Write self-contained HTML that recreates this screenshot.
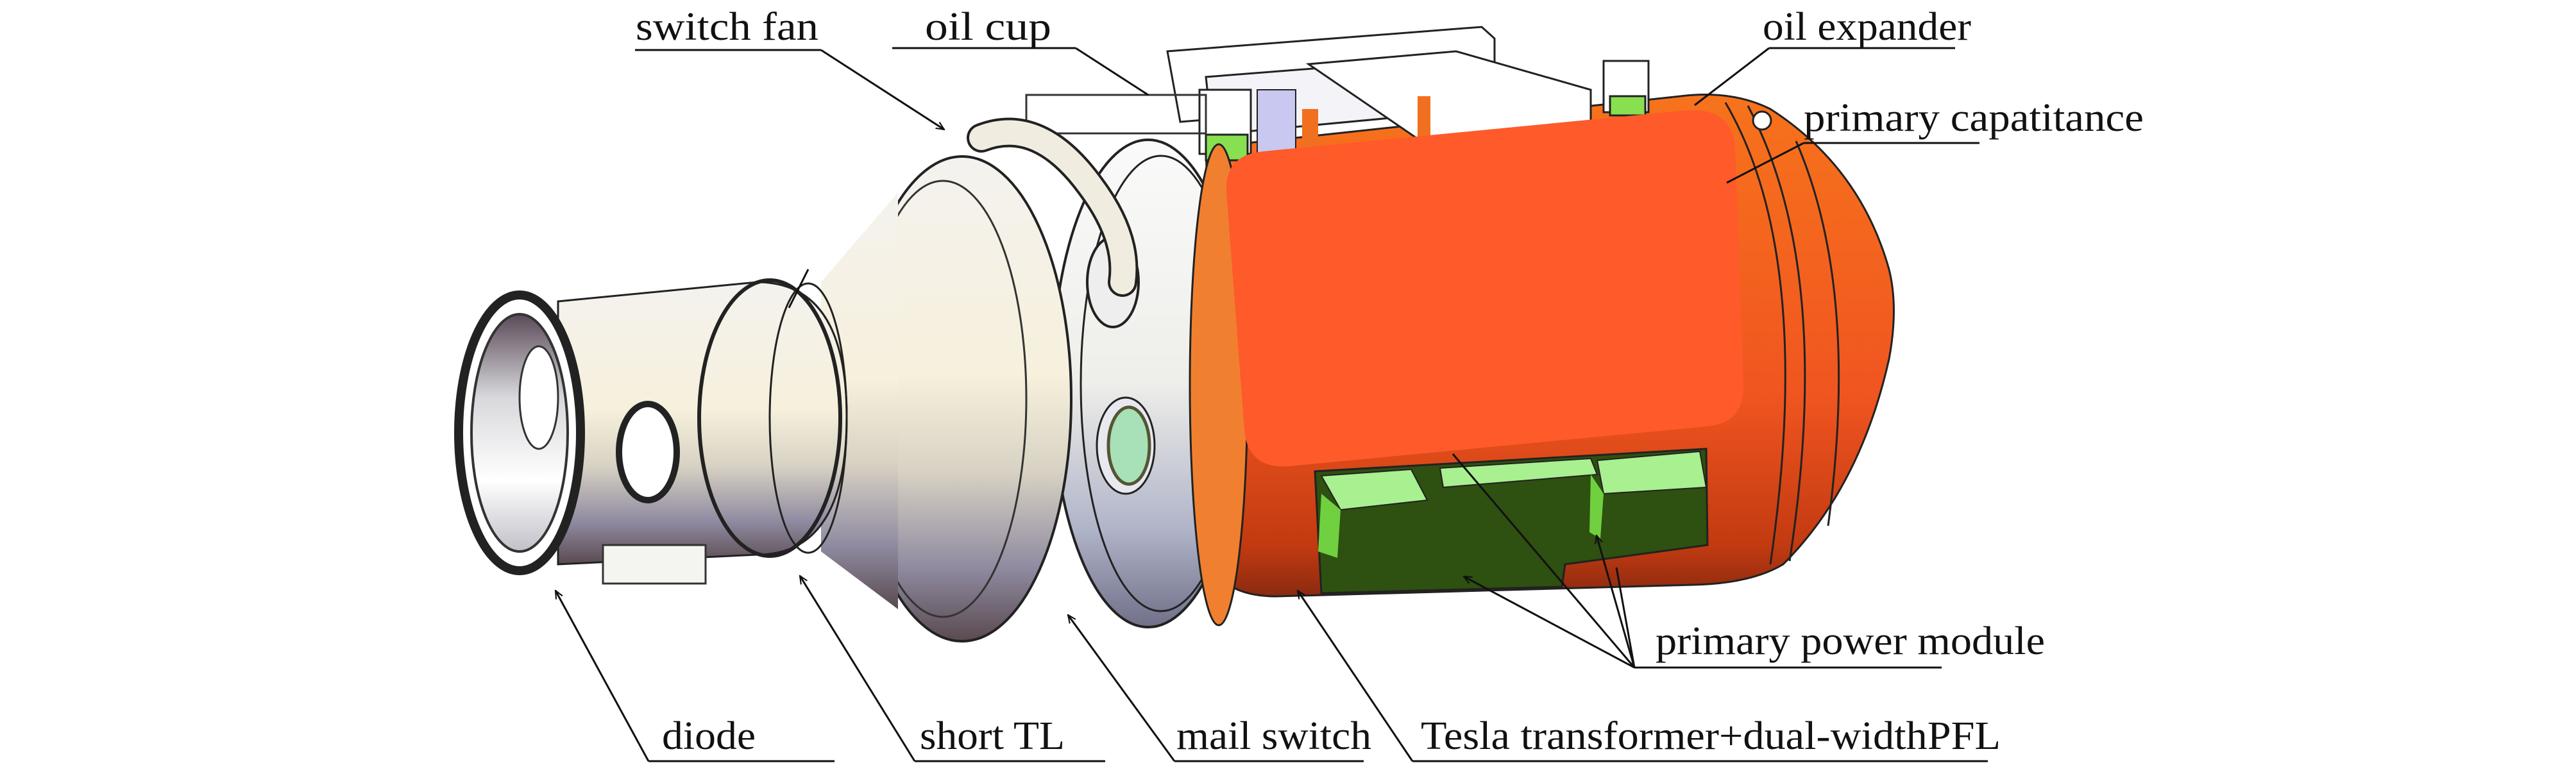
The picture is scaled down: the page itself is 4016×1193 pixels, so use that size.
<!DOCTYPE html>
<html><head><meta charset="utf-8"><style>
html,body{margin:0;padding:0;background:#fff;}
svg{display:block;}
text{font-family:"Liberation Serif",serif;font-size:62px;fill:#111;}
</style></head><body>
<svg width="4016" height="1193" viewBox="0 0 4016 1193" xmlns="http://www.w3.org/2000/svg">
<defs>
<linearGradient id="metal" x1="0" y1="0" x2="0" y2="1">
<stop offset="0" stop-color="#f4f2ee"/><stop offset="0.45" stop-color="#f6f0dc"/><stop offset="0.65" stop-color="#d8d2c4"/><stop offset="0.85" stop-color="#8f8aa0"/><stop offset="1" stop-color="#5a4a50"/></linearGradient>
<linearGradient id="metal2" x1="0" y1="0" x2="0" y2="1">
<stop offset="0" stop-color="#fafafa"/><stop offset="0.5" stop-color="#eeeeea"/><stop offset="0.8" stop-color="#b0b4c8"/><stop offset="1" stop-color="#707088"/></linearGradient>
<linearGradient id="orng" x1="0" y1="0" x2="0" y2="1">
<stop offset="0" stop-color="#f7731c"/><stop offset="0.6" stop-color="#f05520"/><stop offset="0.9" stop-color="#c23a10"/><stop offset="1" stop-color="#8a2a10"/></linearGradient>
<linearGradient id="inner" x1="0" y1="0" x2="0" y2="1">
<stop offset="0" stop-color="#5a4a58"/><stop offset="0.35" stop-color="#d8d8dc"/><stop offset="0.7" stop-color="#ffffff"/><stop offset="1" stop-color="#c0c0c8"/></linearGradient>
<marker id="ar" viewBox="0 0 20 20" refX="18" refY="10" markerWidth="14" markerHeight="14" orient="auto" markerUnits="userSpaceOnUse">
<path d="M0,2 L18,10 L0,18" fill="none" stroke="#111" stroke-width="3"/></marker>
</defs>

<!-- orange body with dome -->
<path d="M1880,230 L2620,150 Q2700,140 2760,170 Q2900,260 2945,420 Q2960,480 2945,560 Q2900,760 2780,880 Q2730,910 2640,912 L1990,930 Q1930,930 1900,900 Z" fill="url(#orng)" stroke="#222" stroke-width="3"/>
<path d="M2690,160 Q2830,400 2760,880" fill="none" stroke="#222" stroke-width="3"/>
<path d="M2725,165 Q2860,420 2790,875" fill="none" stroke="#222" stroke-width="3"/>
<path d="M2800,220 Q2900,450 2850,820" fill="none" stroke="#222" stroke-width="3"/>
<circle cx="2747" cy="188" r="14" fill="#fff" stroke="#222" stroke-width="3"/>

<!-- top boxes -->
<path d="M1820,80 L2310,42 L2330,60 L2330,150 L1840,190 Z" fill="#fff" stroke="#222" stroke-width="3"/>
<path d="M1880,120 L2200,95 L2210,180 L1890,210 Z" fill="#f3f3f8" stroke="#222" stroke-width="3"/>
<path d="M2040,100 L2270,80 L2480,140 L2480,210 L2230,230 Z" fill="#fff" stroke="#222" stroke-width="3"/>
<rect x="1960" y="140" width="60" height="100" fill="#c8c8f0" stroke="#222" stroke-width="2"/>
<rect x="2030" y="170" width="25" height="70" fill="#f07020"/>
<rect x="2210" y="150" width="20" height="80" fill="#f07020"/>
<rect x="1870" y="140" width="80" height="100" fill="#ffffff" stroke="#222" stroke-width="3"/>
<rect x="1880" y="210" width="65" height="40" fill="#88e050" stroke="#222" stroke-width="3"/>
<rect x="2500" y="95" width="70" height="80" fill="#fff" stroke="#222" stroke-width="3"/>
<rect x="2510" y="150" width="55" height="30" fill="#88e050" stroke="#222" stroke-width="3"/>
<rect x="1600" y="148" width="280" height="60" fill="none" stroke="#333" stroke-width="3"/>

<!-- main flange (second ring) -->
<ellipse cx="1790" cy="598" rx="150" ry="380" fill="url(#metal2)" stroke="#222" stroke-width="4"/>
<ellipse cx="1810" cy="598" rx="125" ry="355" fill="none" stroke="#222" stroke-width="3"/>
<ellipse cx="1900" cy="600" rx="45" ry="375" fill="#f08030" stroke="#222" stroke-width="3"/>
<!-- big flange -->
<ellipse cx="1500" cy="622" rx="170" ry="378" fill="url(#metal)" stroke="#222" stroke-width="4"/>
<ellipse cx="1470" cy="622" rx="130" ry="340" fill="none" stroke="#333" stroke-width="3"/>
<!-- cone to short TL -->
<path d="M1280,440 L1400,300 L1400,950 L1280,860 Z" fill="url(#metal)"/>
<!-- short TL -->
<path d="M870,470 L1180,440 Q1320,440 1320,650 Q1320,865 1180,865 L870,880 Z" fill="url(#metal)" stroke="#222" stroke-width="3"/>
<ellipse cx="1200" cy="652" rx="110" ry="215" fill="none" stroke="#222" stroke-width="6"/>
<ellipse cx="1260" cy="652" rx="60" ry="210" fill="none" stroke="#222" stroke-width="3"/>
<ellipse cx="1010" cy="705" rx="45" ry="75" fill="#fff" stroke="#222" stroke-width="10"/>
<!-- diode flange -->
<ellipse cx="810" cy="675" rx="95" ry="215" fill="#fff" stroke="#222" stroke-width="14"/>
<ellipse cx="810" cy="675" rx="75" ry="185" fill="url(#inner)" stroke="#333" stroke-width="4"/>
<ellipse cx="840" cy="620" rx="30" ry="80" fill="#fff" stroke="#333" stroke-width="3"/>
<rect x="940" y="850" width="160" height="60" fill="#f4f4f0" stroke="#333" stroke-width="3"/>
<!-- viewport -->
<ellipse cx="1755" cy="695" rx="45" ry="75" fill="#e8e8f0" stroke="#222" stroke-width="3"/>
<ellipse cx="1760" cy="695" rx="32" ry="60" fill="#a8e0b8" stroke="#553" stroke-width="5"/>
<ellipse cx="1735" cy="440" rx="40" ry="70" fill="#eee" stroke="#222" stroke-width="4"/>
<!-- pipe -->
<path d="M1530,215 Q1620,180 1700,290 Q1760,370 1750,440" fill="none" stroke="#222" stroke-width="46" stroke-linecap="round"/>
<path d="M1530,215 Q1620,180 1700,290 Q1760,370 1750,440" fill="none" stroke="#f0ece0" stroke-width="38" stroke-linecap="round"/>

<!-- orange panel -->
<path d="M1970,236 L2630,172 Q2700,168 2705,230 L2718,600 Q2720,660 2660,665 L2010,727 Q1945,732 1940,670 L1912,300 Q1908,242 1970,236 Z" fill="#ff5a2a"/>

<!-- green modules -->
<path d="M2050,735 L2660,700 L2662,850 L2440,880 L2435,915 L2060,925 Z" fill="#2e5010" stroke="#222" stroke-width="3"/>
<path d="M2060,742 L2200,732 L2225,780 L2090,795 Z" fill="#a8f090" stroke="#222" stroke-width="2"/>
<path d="M2245,730 L2480,715 L2490,740 L2250,760 Z" fill="#a8f090" stroke="#222" stroke-width="2"/>
<path d="M2490,718 L2650,704 L2660,760 L2500,770 Z" fill="#a8f090" stroke="#222" stroke-width="2"/>
<path d="M2060,770 L2090,795 L2085,870 L2055,860 Z" fill="#70d040"/>
<path d="M2480,740 L2500,770 L2495,840 L2478,830 Z" fill="#70d040"/>

<!-- leaders -->
<g stroke="#111" stroke-width="3" fill="none">
<line x1="990" y1="78" x2="1280" y2="78"/><line x1="1280" y1="78" x2="1472" y2="202" marker-end="url(#ar)"/>
<line x1="1391" y1="75" x2="1677" y2="75"/><line x1="1677" y1="75" x2="1790" y2="148"/>
<line x1="2758" y1="75" x2="3048" y2="75"/><line x1="2758" y1="75" x2="2642" y2="164"/>
<line x1="2812" y1="223" x2="3086" y2="223"/><line x1="2812" y1="223" x2="2692" y2="285"/>
<line x1="2548" y1="1041" x2="3027" y2="1041"/>
<line x1="2548" y1="1041" x2="2265" y2="708"/>
<line x1="2548" y1="1041" x2="2282" y2="899" marker-end="url(#ar)"/>
<line x1="2548" y1="1041" x2="2489" y2="835" marker-end="url(#ar)"/>
<line x1="2548" y1="1041" x2="2520" y2="885"/>
<line x1="1011" y1="1187" x2="1301" y2="1187"/><line x1="1011" y1="1187" x2="866" y2="921" marker-end="url(#ar)"/>
<line x1="1426" y1="1187" x2="1723" y2="1187"/><line x1="1426" y1="1187" x2="1247" y2="898" marker-end="url(#ar)"/>
<line x1="1831" y1="1187" x2="2126" y2="1187"/><line x1="1831" y1="1187" x2="1665" y2="959" marker-end="url(#ar)"/>
<line x1="2202" y1="1187" x2="3099" y2="1187"/><line x1="2202" y1="1187" x2="2023" y2="921" marker-end="url(#ar)"/>
<line x1="1230" y1="480" x2="1260" y2="420"/>
</g>

<!-- labels -->
<text x="991" y="62" textLength="285" lengthAdjust="spacingAndGlyphs">switch  fan</text>
<text x="1442" y="62" textLength="197" lengthAdjust="spacingAndGlyphs">oil cup</text>
<text x="2748" y="62" textLength="325" lengthAdjust="spacingAndGlyphs">oil expander</text>
<text x="2812" y="204" textLength="530" lengthAdjust="spacingAndGlyphs">primary capatitance</text>
<text x="2581" y="1020" textLength="607" lengthAdjust="spacingAndGlyphs">primary power module</text>
<text x="1032" y="1168" textLength="146" lengthAdjust="spacingAndGlyphs">diode</text>
<text x="1434" y="1168" textLength="226" lengthAdjust="spacingAndGlyphs">short TL</text>
<text x="1834" y="1168" textLength="304" lengthAdjust="spacingAndGlyphs">mail switch</text>
<text x="2215" y="1168" textLength="904" lengthAdjust="spacingAndGlyphs">Tesla transformer+dual-widthPFL</text>
</svg>
</body></html>
